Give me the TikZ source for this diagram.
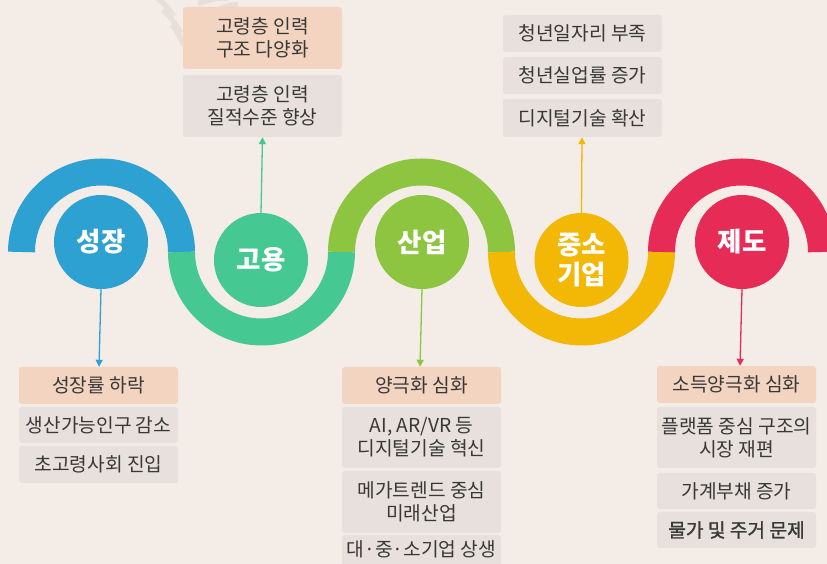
\documentclass[tikz,border=0pt]{standalone}
\usepackage{fontspec}
\setmainfont{Noto Sans CJK KR}
\newfontfamily\krbold{Noto Sans CJK KR}[FakeBold=1.4]
\usetikzlibrary{arrows.meta}
\definecolor{bg}{HTML}{F4ECE7}
\definecolor{cblue}{HTML}{2EA1D3}
\definecolor{cgreen}{HTML}{45C891}
\definecolor{clime}{HTML}{8DC440}
\definecolor{cyellow}{HTML}{F3B705}
\definecolor{cred}{HTML}{E52B56}
\definecolor{borange}{HTML}{F2D4C0}
\definecolor{bgray}{HTML}{E7E0DC}
\definecolor{tgray}{HTML}{383838}
\definecolor{wmark}{HTML}{E7DFDA}
\begin{document}
\begin{tikzpicture}[x=1pt,y=1pt,
  wave/.style={line width=27pt},
  hub/.style={circle,minimum size=94pt,inner sep=0pt,text=white,font=\fontsize{26.5}{32}\selectfont\bfseries,align=center},
  boxbase/.style={rounded corners=3pt,minimum width=159pt,inner sep=0pt,text=tgray,font=\fontsize{19.2}{23}\selectfont,align=center},
  obox/.style={boxbase,fill=borange},
  gbox/.style={boxbase,fill=bgray},
  link/.style={line width=1.3pt,-{Triangle[length=7pt,width=7pt]}},
  mark stroke/.style={wmark,line width=5pt}
]
\clip (0,0) rectangle (827,564);
\fill[bg] (0,0) rectangle (827,564);
\useasboundingbox (0,0) rectangle (827,564);

% faint watermark strokes
\draw[mark stroke] (157,566) to[bend left=8] (174,548);
\draw[mark stroke] (163,554) to[bend left=8] (181,531);
\draw[mark stroke] (172,539) to[bend left=8] (184,518);
\draw[mark stroke] (198,560) to[bend left=10] (228,566);
\draw[mark stroke] (208,550) to[bend left=10] (238,560);

% wave
\draw[wave,cblue]   (21.5,312)  arc (180:0:80);
\draw[wave,cgreen]  (181.5,312) arc (180:360:80);
\draw[wave,clime]   (341.5,312) arc (180:0:80);
\draw[wave,cyellow] (501.5,312) arc (180:360:80);
\draw[wave,cred]    (661.5,312) arc (180:0:80);

% hubs
\node[hub,fill=cblue]   (growth) at (101,322) {성장};
\node[hub,fill=cgreen]  (employ) at (261,304) {고용};
\node[hub,fill=clime]   (indus)  at (422,322) {산업};
\node[hub,fill=cyellow] (sme)    at (581.5,304) {중소\\[-2pt]기업};
\node[hub,fill=cred]    (inst)   at (742,322) {제도};

% top-left boxes
\node[obox,minimum height=62pt] (e1) at (262.5,526) {고령층 인력\\구조 다양화};
\node[gbox,minimum height=62pt] (e2) at (262.5,458) {고령층 인력\\질적수준 향상};

% top-right boxes
\node[gbox,minimum height=37pt] (s1) at (582.5,530.5) {청년일자리 부족};
\node[gbox,minimum height=37pt] (s2) at (582.5,488.5) {청년실업률 증가};
\node[gbox,minimum height=38pt] (s3) at (582.5,446) {디지털기술 확산};

% bottom-left boxes
\node[obox,minimum height=37pt] (g1) at (98.5,178.5) {성장률 하락};
\node[gbox,minimum height=36pt] (g2) at (98.5,139) {생산가능인구 감소};
\node[gbox,minimum height=37pt] (g3) at (98.5,99.5) {초고령사회 진입};

% bottom-middle boxes
\node[obox,minimum height=37pt] (i1) at (421.5,178.5) {양극화 심화};
\node[gbox,minimum height=61pt] (i2) at (421.5,126.5) {AI, AR/VR 등\\디지털기술 혁신};
\node[gbox,minimum height=62pt] (i3) at (421.5,62) {메가트렌드 중심\\미래산업};
\node[gbox,minimum height=40pt] (i4) at (421.5,9) {\raisebox{13pt}{대·중·소기업 상생}};

% bottom-right boxes
\node[obox,minimum height=37pt] (r1) at (736.5,179.5) {소득양극화 심화};
\node[gbox,minimum height=61pt] (r2) at (736.5,126.5) {플랫폼 중심 구조의\\시장 재편};
\node[gbox,minimum height=36pt] (r3) at (736.5,73) {가계부채 증가};
\node[gbox,minimum height=36pt] (r4) at (736.5,34) {\krbold 물가 및 주거 문제};

% connectors
\draw[link,cblue]   (growth.south) -- (g1.north -| 99,0);
\draw[link,cgreen]  (employ.north) -- (e2.south -| 262.5,0);
\draw[link,clime]   (indus.south)  -- (i1.north -| 420,0);
\draw[link,cyellow] (sme.north)    -- (s3.south -| 582,0);
\draw[link,cred]    (inst.south)   -- (r1.north -| 740,0);
\end{tikzpicture}
\end{document}
